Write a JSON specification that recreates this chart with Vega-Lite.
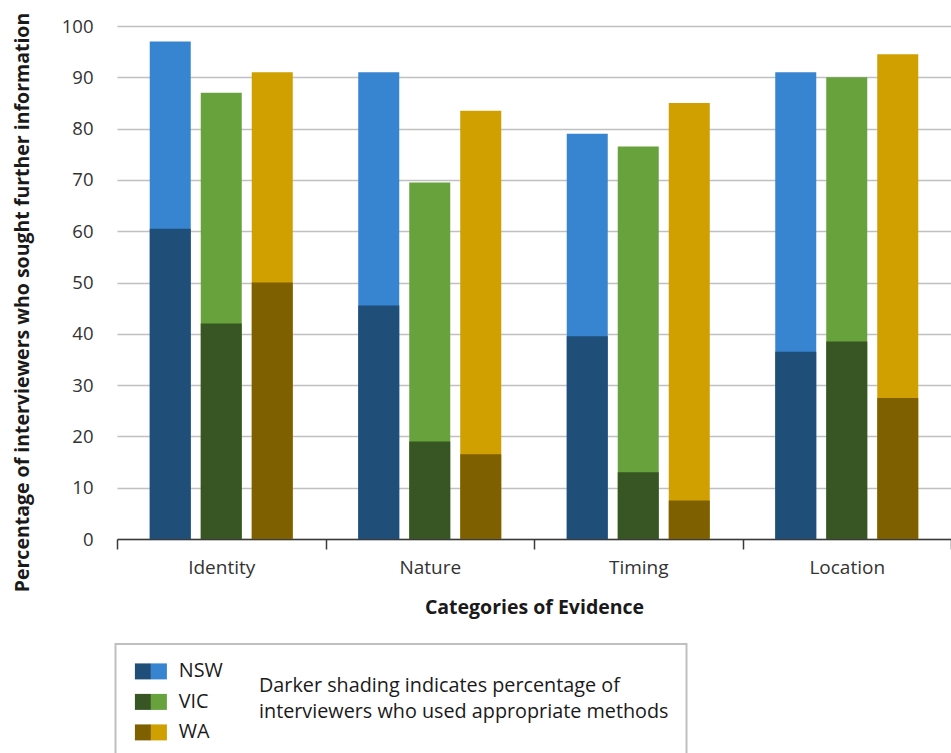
{
  "$schema": "https://vega.github.io/schema/vega-lite/v6.json",
  "width": 834,
  "height": 513,
  "autosize": {"type": "none"},
  "padding": {"left": 117, "top": 26, "right": 0, "bottom": 214},
  "background": "white",
  "config": {"view": {"stroke": null}, "font": "Open Sans"},
  "data": {"values": [
    {"category": "Identity", "state": "NSW", "total": 97, "used": 60.5},
    {"category": "Identity", "state": "VIC", "total": 87, "used": 42},
    {"category": "Identity", "state": "WA", "total": 91, "used": 50},
    {"category": "Nature", "state": "NSW", "total": 91, "used": 45.5},
    {"category": "Nature", "state": "VIC", "total": 69.5, "used": 19},
    {"category": "Nature", "state": "WA", "total": 83.5, "used": 16.5},
    {"category": "Timing", "state": "NSW", "total": 79, "used": 39.5},
    {"category": "Timing", "state": "VIC", "total": 76.5, "used": 13},
    {"category": "Timing", "state": "WA", "total": 85, "used": 7.5},
    {"category": "Location", "state": "NSW", "total": 91, "used": 36.5},
    {"category": "Location", "state": "VIC", "total": 90, "used": 38.5},
    {"category": "Location", "state": "WA", "total": 94.5, "used": 27.5}
  ]},
  "encoding": {
    "x": {
      "field": "category", "type": "nominal",
      "sort": ["Identity", "Nature", "Timing", "Location"],
      "scale": {"paddingInner": 0, "paddingOuter": 0},
      "axis": {
        "title": "Categories of Evidence", "labelAngle": 0, "labelFontSize": 19,
        "labelColor": "#333333", "labelPadding": 9, "tickBand": "extent", "tickSize": 10,
        "tickColor": "#3a3a3a", "tickWidth": 1.5, "domainColor": "#3a3a3a", "domainWidth": 1.5,
        "titleFontSize": 19.5, "titleFontWeight": "bold", "titleColor": "#1a1a1a", "titlePadding": 21,
        "grid": false
      }
    },
    "xOffset": {
      "field": "state", "type": "nominal", "sort": ["NSW", "VIC", "WA"],
      "scale": {"paddingInner": 0.196, "paddingOuter": 0.642}
    }
  },
  "layer": [
    {
      "mark": {"type": "bar"},
      "encoding": {
        "y": {
          "field": "total", "type": "quantitative",
          "scale": {"domain": [0, 100]},
          "title": "Percentage of interviewers who sought further information",
          "axis": {
            "title": "Percentage of interviewers who sought further information",
            "values": [0, 10, 20, 30, 40, 50, 60, 70, 80, 90, 100],
            "domain": false, "ticks": false, "tickSize": 0, "labelPadding": 24,
            "labelFontSize": 18.5, "labelColor": "#333333",
            "gridColor": "#c0c0c0", "gridWidth": 1.5,
            "titleFontSize": 19.5, "titleFontWeight": "bold", "titleColor": "#1a1a1a",
            "titleX": -95, "titleY": 276, "titleAlign": "center", "titleBaseline": "middle"
          }
        },
        "color": {
          "field": "state", "type": "nominal",
          "scale": {"domain": ["NSW", "VIC", "WA"], "range": ["#3784d0", "#68a23d", "#d09f00"]},
          "legend": {
            "orient": "none", "legendX": -1.5, "legendY": 618,
            "title": ["Darker shading indicates percentage of", "interviewers who used appropriate methods"],
            "titleOrient": "right", "titleFontSize": 19.8, "titleFontWeight": "normal",
            "titleColor": "#1a1a1a", "titleLineHeight": 26, "titlePadding": 36, "titleLimit": 700,
            "titleAnchor": "middle", "titleBaseline": "middle", "titleAlign": "left",
            "symbolType": "M1,-1H3V1H1Z", "symbolSize": 256, "symbolStrokeWidth": 0,
            "labelFontSize": 19.8, "labelOffset": 26, "labelColor": "#1a1a1a",
            "rowPadding": 9.5, "padding": 17.5, "strokeColor": "#bfbfbf",
            "encode": {
              "legend": {"update": {"strokeWidth": {"value": 2}}},
              "title": {"update": {"dy": {"value": -3}}},
              "symbols": {"update": {"fill": {"signal": "datum.value === 'NSW' ? '#4a90d9' : datum.value === 'VIC' ? '#70b244' : '#f5b800'"}, "fillOpacity": {"value": 1}}}
            }
          }
        }
      }
    },
    {
      "mark": {"type": "bar"},
      "encoding": {
        "y": {
          "field": "used", "type": "quantitative",
          "title": "Percentage of interviewers who sought further information"
        },
        "color": {
          "field": "state", "type": "nominal",
          "scale": {"domain": ["NSW", "VIC", "WA"], "range": ["#1f4e79", "#375623", "#7f6000"]},
          "legend": {
            "orient": "none", "legendX": -1.5, "legendY": 618, "title": null,
            "symbolType": "square", "symbolSize": 256, "symbolStrokeWidth": 0,
            "labelFontSize": 19.8, "labelOffset": 26, "labelColor": "transparent",
            "rowPadding": 9.5, "padding": 17.5,
            "encode": {"symbols": {"update": {"fillOpacity": {"value": 1}}}}
          }
        }
      }
    }
  ],
  "resolve": {"scale": {"color": "independent"}}
}
